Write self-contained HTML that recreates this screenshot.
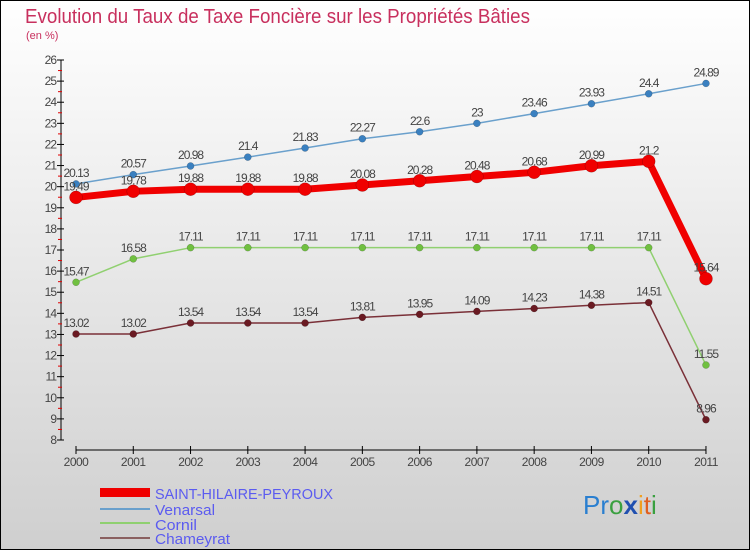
<!DOCTYPE html>
<html><head><meta charset="utf-8"><style>
html,body{margin:0;padding:0;}
body{width:750px;height:550px;overflow:hidden;font-family:"Liberation Sans",sans-serif;}
svg text{font-family:"Liberation Sans",sans-serif;}
</style></head><body>
<svg id="chart" width="750" height="550" xmlns="http://www.w3.org/2000/svg">
<defs><linearGradient id="bg" x1="0" y1="0" x2="0" y2="1"><stop offset="0" stop-color="#ffffff"/><stop offset="1" stop-color="#cfcfcf"/></linearGradient></defs>
<rect x="0.5" y="0.5" width="749" height="549" fill="url(#bg)" stroke="#000" stroke-width="1"/>
<text x="25" y="23" font-size="20" fill="#c8305e" textLength="505" lengthAdjust="spacingAndGlyphs">Evolution du Taux de Taxe Foncière sur les Propriétés Bâties</text>
<text x="26" y="39" font-size="11" fill="#c8305e">(en %)</text>
<g id="axes"></g>
<g id="series"></g>
<g id="legend">
 <rect x="100" y="488" width="50" height="9" fill="#f00000"/>
 <text x="155" y="499" font-size="15" fill="#5b5bf0" textLength="178" lengthAdjust="spacingAndGlyphs">SAINT-HILAIRE-PEYROUX</text>
 <rect x="100" y="508" width="50" height="2" fill="#6aa0cc"/>
 <text x="155" y="515" font-size="15" fill="#5b5bf0" textLength="60" lengthAdjust="spacingAndGlyphs">Venarsal</text>
 <rect x="100" y="522" width="50" height="2" fill="#8fd070"/>
 <text x="155" y="530" font-size="15" fill="#5b5bf0" textLength="42" lengthAdjust="spacingAndGlyphs">Cornil</text>
 <rect x="100" y="537" width="50" height="2" fill="#8a6060"/>
 <text x="155" y="544" font-size="15" fill="#5b5bf0" textLength="75" lengthAdjust="spacingAndGlyphs">Chameyrat</text>
</g>
<g font-size="26">
 <text x="583" y="514"><tspan fill="#2a7fd0">Pr</tspan><tspan fill="#3aa040">o</tspan><tspan fill="#2050b0" font-weight="bold">x</tspan><tspan fill="#f0a020">i</tspan><tspan fill="#e06020">t</tspan><tspan fill="#3aa040">i</tspan></text>
</g>
</svg>
<script>
const years = [2000,2001,2002,2003,2004,2005,2006,2007,2008,2009,2010,2011];
const saintHilaire = [19.49,19.78,19.88,19.88,19.88,20.08,20.28,20.48,20.68,20.99,21.2,15.64];
const venarsal = [20.13,20.57,20.98,21.4,21.83,22.27,22.6,23,23.46,23.93,24.4,24.89];
const cornil = [15.47,16.58,17.11,17.11,17.11,17.11,17.11,17.11,17.11,17.11,17.11,11.55];
const chameyrat = [13.02,13.02,13.54,13.54,13.54,13.81,13.95,14.09,14.23,14.38,14.51,8.96];
const yTicks = [8,9,10,11,12,13,14,15,16,17,18,19,20,21,22,23,24,25,26];

const NS="http://www.w3.org/2000/svg";
const x = i => 76 + i*57.27;
const y = v => 440 - (v-8)*(380/18);
function mk(tag, attrs, parent){const e=document.createElementNS(NS,tag);for(const k in attrs)e.setAttribute(k,attrs[k]);parent.appendChild(e);return e;}
const axes=document.getElementById('axes'), ser=document.getElementById('series');

const ya=mk('line',{x1:61,y1:y(26),x2:61,y2:440,stroke:'#000'},axes);


yTicks.forEach(t=>{
  const tk=mk('line',{x1:57,y1:y(t),x2:64,y2:y(t),stroke:'#000'},axes);
  
  
  if(t<26){const m=mk('line',{x1:58,y1:y(t+0.5),x2:62,y2:y(t+0.5),stroke:'#e00000'},axes);
  
  }
  const lb=mk('text',{x:56,y:y(t)+4,'font-size':12,fill:'#444','text-anchor':'end','letter-spacing':'-1'},axes);
  lb.textContent=t;
  
  
});
const xa=mk('line',{x1:x(0),y1:450,x2:x(11),y2:450,stroke:'#000'},axes);


years.forEach((yr,i)=>{
  const tk=mk('line',{x1:x(i),y1:446,x2:x(i),y2:454,stroke:'#000'},axes);
  
  
  const lb=mk('text',{x:x(i),y:466,'font-size':12,fill:'#444','text-anchor':'middle','letter-spacing':'-0.5'},axes);
  lb.textContent=yr;
  
  
});

function drawSeries(vals,name,color,dot,width,r){
  const g=mk('g',{},ser);
  
  
  const pl=mk('polyline',{points:vals.map((v,i)=>x(i)+','+y(v)).join(' '),fill:'none',stroke:color,'stroke-width':width,'stroke-linejoin':'round'},g);
  
  
  vals.forEach((v,i)=>{
    const c=mk('circle',{cx:x(i),cy:y(v),r:r,fill:dot,stroke:'rgba(0,0,0,0.3)','stroke-width':0.5},g);
    
    
    const t=mk('text',{x:x(i),y:y(v)-7,'font-size':12,fill:'#444','text-anchor':'middle','letter-spacing':'-1'},g);
    t.textContent=v;
    
    
  });
}
drawSeries(chameyrat,'chameyrat','#7a3038','#6a1a22',1.5,3.5);
drawSeries(cornil,'cornil','#90d070','#70c040',1.5,3.5);
drawSeries(venarsal,'venarsal','#6aa0cc','#3a80c0',1.5,3.5);
drawSeries(saintHilaire,'saint-hilaire-peyroux','#f00000','#f00000',7,6.5);
</script>
</body></html>
